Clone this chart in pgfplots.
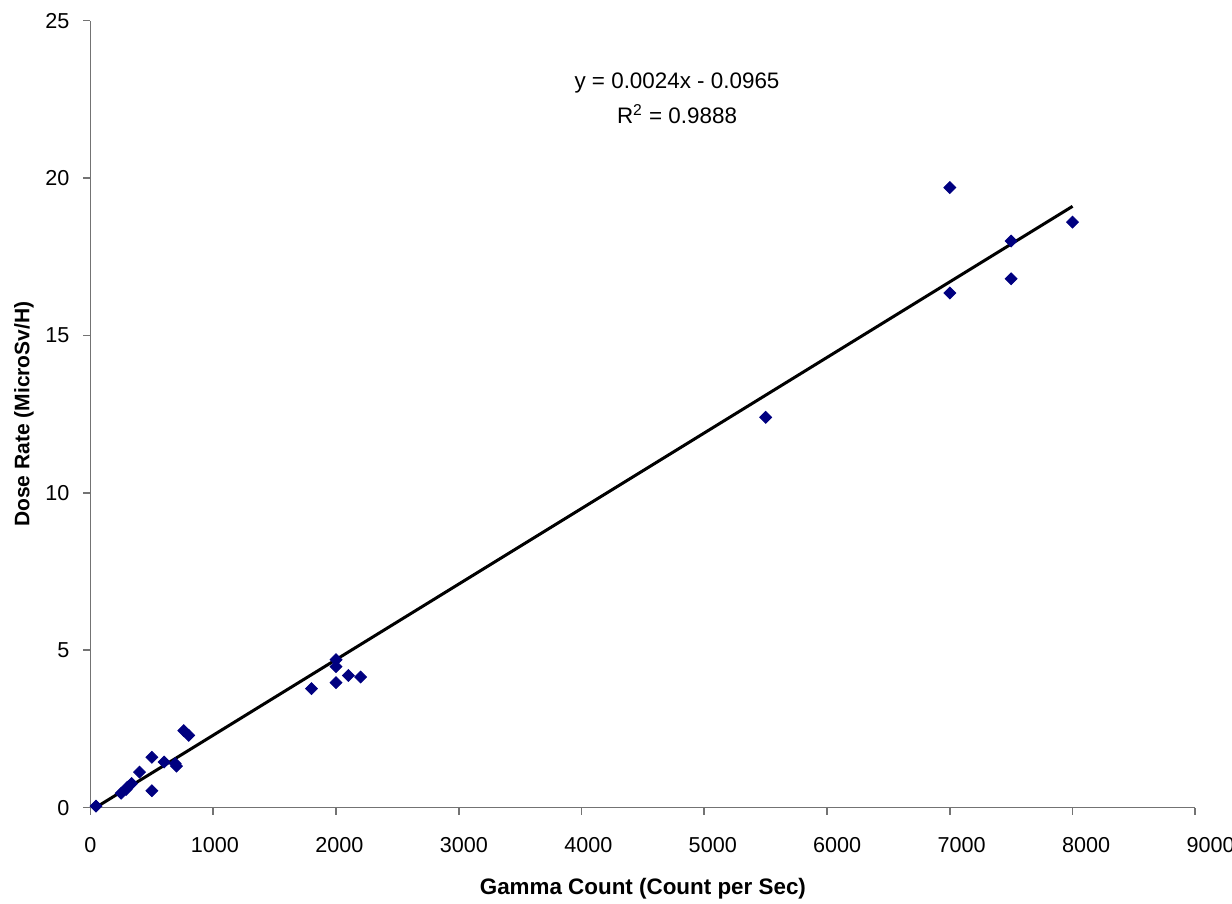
\documentclass[border=0pt]{standalone}
\usepackage{fontspec}
\setmainfont{Liberation Sans}
\usepackage{pgfplots}
\pgfplotsset{compat=1.18}
\definecolor{navyblue}{RGB}{0,0,128}
\begin{document}
\begin{tikzpicture}
\begin{axis}[
    name=main,
    scale only axis,
    width=552.4pt, height=393.5pt,
    xmin=0, xmax=9000, ymin=0, ymax=25,
    axis x line*=bottom, axis y line*=left,
    axis line style={gray!90!black, line width=0.8pt},
    xtick={0,1000,...,9000}, ytick={0,5,...,25},
    tick align=outside, major tick length=3.5pt,
    tick style={gray!90!black, line width=0.8pt},
    scaled x ticks=false,
    /pgf/number format/1000 sep={},
    /pgf/number format/assume math mode=true,
    ticklabel style={font=\fontsize{10.8}{12}\selectfont},
    xticklabel style={yshift=-7.75pt, xshift=0.85*\ticknum pt},
    yticklabel style={xshift=-3.5pt},
    xlabel={\textbf{Gamma Count (Count per Sec)}},
    ylabel={\textbf{Dose Rate (MicroSv/H)}},
    xlabel style={font=\fontsize{11.2}{13}\selectfont, yshift=-5.75pt},
    ylabel style={font=\fontsize{10.5}{12}\selectfont, yshift=-1pt},
    clip=false,
]
% trendline y = 0.0024x - 0.0965
\addplot[black, line width=1.5pt] coordinates {(50,0.0235) (8000,19.1035)};
% measured points
\addplot[only marks, mark=square*, mark size=2.1pt, color=navyblue,
    mark options={fill=navyblue, rotate=45}] coordinates {
    (45,0.05)
    (250,0.46) (290,0.58) (300,0.65) (335,0.77)
    (400,1.13) (500,1.6) (500,0.54) (600,1.45)
    (690,1.4) (700,1.32) (760,2.45) (800,2.3)
    (1800,3.78) (2000,4.7) (2000,4.48) (2000,3.97) (2100,4.2) (2200,4.15)
    (5500,12.4) (7000,19.7) (7000,16.35) (7500,18.0) (7500,16.8) (8000,18.6)
};
\node[align=center, font=\fontsize{11.2}{17.5}\selectfont] at (axis cs:4778,22.55)
    {y = 0.0024x - 0.0965\\R\textsuperscript{2} = 0.9888};
\end{axis}
\pgfresetboundingbox
\path (main.south west) ++(-45.25pt,403.85pt) rectangle ++(616pt,-452pt);
\end{tikzpicture}
\end{document}
